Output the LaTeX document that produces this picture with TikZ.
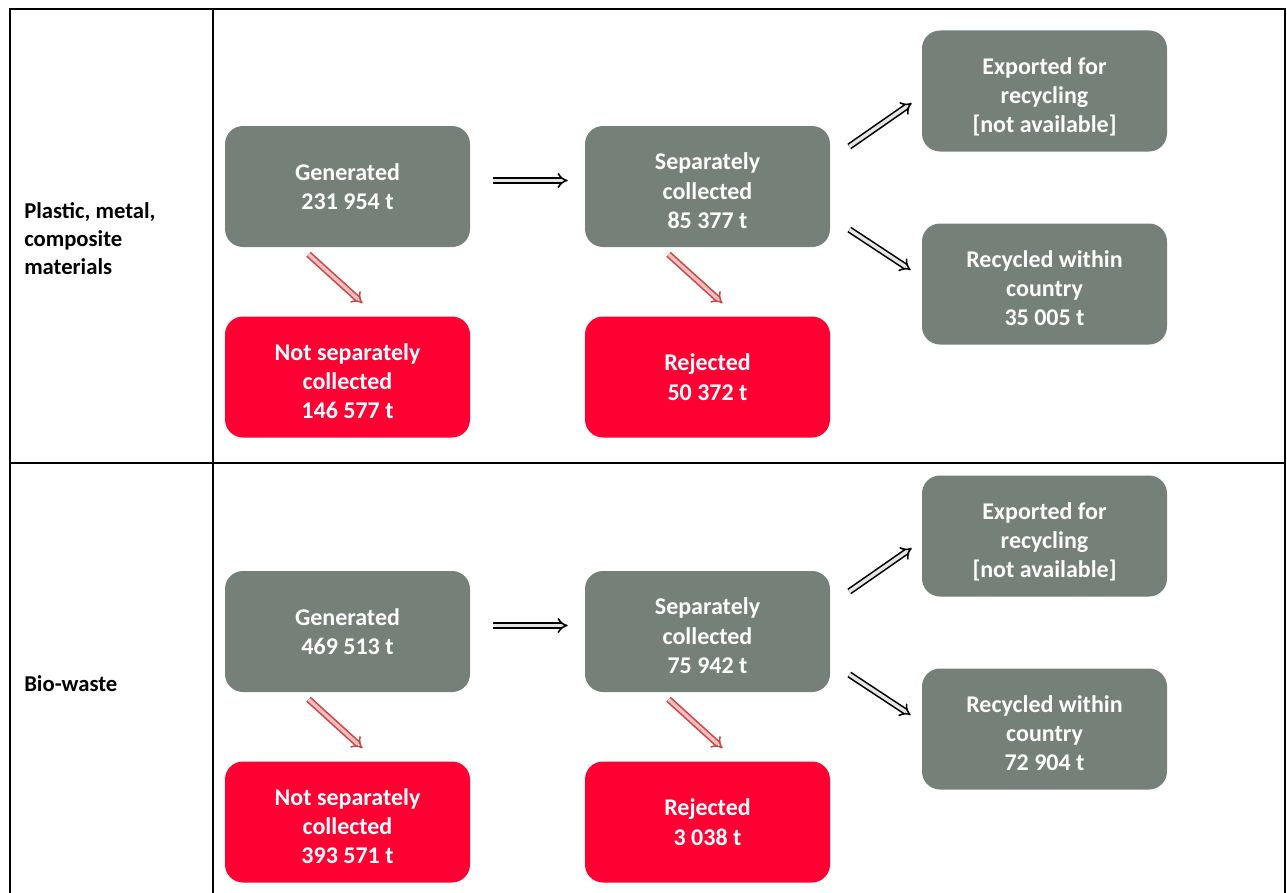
\documentclass[tikz,border=0pt]{standalone}
\usepackage{fontspec}
\setmainfont{Carlito}
\usetikzlibrary{arrows.meta,calc}
\definecolor{boxgray}{RGB}{116,128,120}
\definecolor{boxred}{RGB}{255,0,51}
\definecolor{arrred}{RGB}{200,70,70}
\definecolor{arrpink}{RGB}{246,190,190}
\newcommand\droptext[1]{\raisebox{-5pt}[\height][\depth]{\begin{tabular}{@{}c@{}}#1\end{tabular}}}
\tikzset{
  flowbox/.style={rounded corners=18*0.75pt, minimum width=245*0.75pt, minimum height=121*0.75pt,
    text=white, align=center, font=\fontsize{18}{22}\selectfont\bfseries, inner sep=0pt},
  graybox/.style={flowbox, fill=boxgray},
  redbox/.style={flowbox, fill=boxred},
  rowlabel/.style={align=left, anchor=west, font=\fontsize{17}{21}\selectfont\bfseries, inner sep=0pt},
  blackarrow/.style={draw=black, line width=1.2pt, double=white!90!black, double distance=2.6pt, -{Implies[length=6pt]}},
  redarrow/.style={draw=arrred, line width=1.2pt, double=arrpink, double distance=2.6pt, -{Implies[length=6pt]}},
  tableline/.style={line width=1.5pt}
}
\begin{document}
\begin{tikzpicture}[x=0.75pt,y=-0.75pt]
\useasboundingbox (0,0) rectangle (1287,892);
\begin{scope}
\clip (0,0) rectangle (1287,892);
\draw[tableline] (10,900) -- (10,9) -- (1285,9) -- (1285,900);
\draw[tableline] (213,9) -- (213,900);
\draw[tableline] (10,463) -- (1285,463);
\end{scope}

% row labels
\node[rowlabel] (lab1) at (24,239) {Plastic, metal,\\composite\\materials};
\node[rowlabel] (lab2) at (24,684) {Bio-waste};

% row 1
\node[graybox] (gen1) at (347.5,186.5) {Generated\\231 954 t};
\node[redbox] (ns1) at (347.5,377) {\droptext{Not separately\\collected\\146 577 t}};
\node[graybox] (sep1) at (707.5,186.5) {\droptext{Separately\\collected\\85 377 t}};
\node[redbox] (rej1) at (707.5,377) {Rejected\\50 372 t};
\node[graybox] (exp1) at (1044.5,91) {\droptext{Exported for\\recycling\\{[not available]}}};
\node[graybox] (rec1) at (1044.5,284) {\droptext{Recycled within\\country\\35 005 t}};

% row 2
\node[graybox] (gen2) at (347.5,631.5) {Generated\\469 513 t};
\node[redbox] (ns2) at (347.5,822) {\droptext{Not separately\\collected\\393 571 t}};
\node[graybox] (sep2) at (707.5,631.5) {\droptext{Separately\\collected\\75 942 t}};
\node[redbox] (rej2) at (707.5,822) {Rejected\\3 038 t};
\node[graybox] (exp2) at (1044.5,536) {\droptext{Exported for\\recycling\\{[not available]}}};
\node[graybox] (rec2) at (1044.5,729) {\droptext{Recycled within\\country\\72 904 t}};

% arrows
\foreach \r in {1,2}{
  \draw[blackarrow] ($(gen\r.east)+(23,-6)$) -- ($(sep\r.west)+(-17,-6)$);
  \draw[redarrow] ($(gen\r.south)+(-39,7)$) -- ($(ns\r.north)+(15,-13)$);
  \draw[redarrow] ($(sep\r.south)+(-39,7)$) -- ($(rej\r.north)+(15,-13)$);
  \draw[blackarrow] ($(sep\r.east)+(19,-40)$) -- ($(exp\r.west)+(-10,12)$);
  \draw[blackarrow] ($(sep\r.east)+(19,43)$) -- ($(rec\r.west)+(-11,-14)$);
}
\end{tikzpicture}
\end{document}
